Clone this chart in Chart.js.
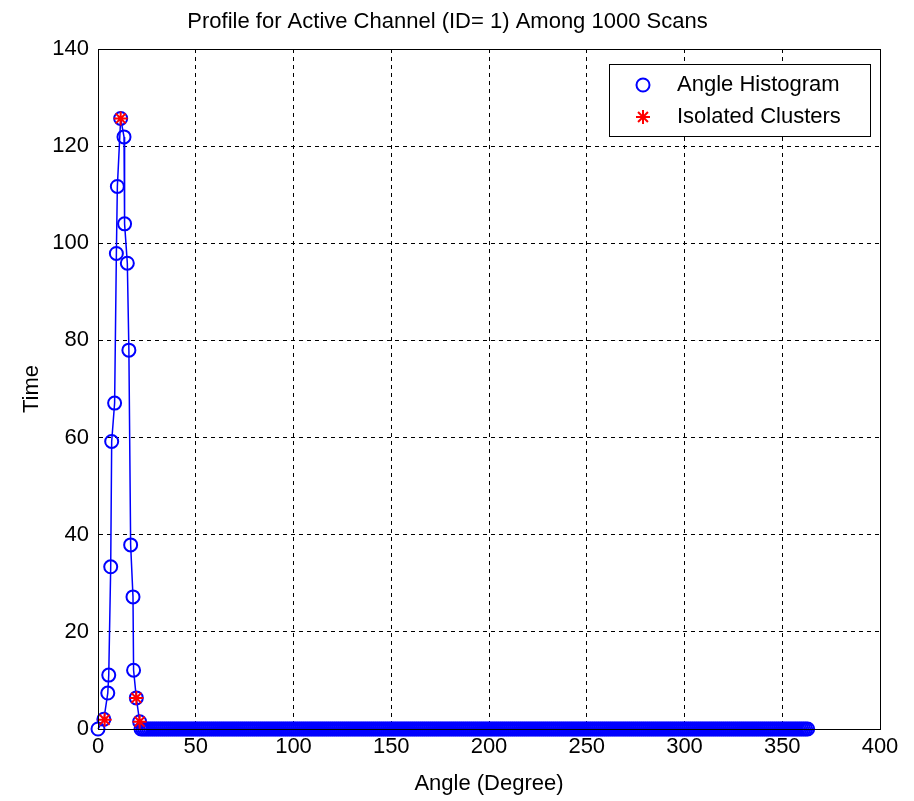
<!DOCTYPE html>
<html>
<head>
<meta charset="utf-8">
<script src="https://cdn.jsdelivr.net/npm/chart.js@4.4.0/dist/chart.umd.min.js"></script>
<style>
  body { margin: 0; background: #fff; }
  canvas { display: block; }
</style>
</head>
<body>
<canvas id="profileChart" width="914" height="801"></canvas>
<script>
// Angle histogram around the peak (degree, time)
const peakAngles = [0, 3, 5, 5.5, 6.5, 7, 8.5, 9.4, 9.9, 11.6, 13.3, 13.6, 15, 15.8, 16.7, 17.9, 18.2, 19.6, 21.3];
const peakValues = [0, 2, 7.4, 11.1, 33.4, 59.2, 67.1, 97.9, 111.7, 125.7, 121.9, 104, 95.9, 78, 37.9, 27.2, 12.1, 6.4, 1.5];

// every remaining degree reads as 0 in the picture
const zeroFrom = 22;
const zeroTo = 363;

// isolated clusters (red stars)
const clusterAngles = [3.4, 11.6, 19.6, 21.3];
const clusterValues = [1.9, 125.7, 6.4, 1.5];

const xTicks = [0, 50, 100, 150, 200, 250, 300, 350, 400];
const yTicks = [0, 20, 40, 60, 80, 100, 120, 140];

const FONT = 'Liberation Sans, Arial, sans-serif';

const histPoints = peakAngles.map((a, i) => ({ x: a, y: peakValues[i] }));
for (let d = zeroFrom; d <= zeroTo; d++) {
  histPoints.push({ x: d, y: 0 });
}
const clusterPoints = clusterAngles.map((a, i) => ({ x: a, y: clusterValues[i] }));

// box around the plot + legend inside top right (matlab style)
const boxAndLegend = {
  id: 'boxAndLegend',
  afterDraw(chart) {
    const ctx = chart.ctx;
    const a = chart.chartArea;
    ctx.save();
    ctx.strokeStyle = '#000';
    ctx.lineWidth = 1;
    ctx.setLineDash([]);
    ctx.strokeRect(a.left + 0.5, a.top + 0.5, a.right - a.left, a.bottom - a.top);

    // legend
    const bx = a.right - 271, by = a.top + 15, bw = 261, bh = 72;
    ctx.fillStyle = '#fff';
    ctx.fillRect(bx, by, bw, bh);
    ctx.strokeRect(bx + 0.5, by + 0.5, bw, bh);

    ctx.font = '22px ' + FONT;
    ctx.textBaseline = 'middle';
    ctx.textAlign = 'left';
    const ds = chart.data.datasets;
    const rows = [by + 21, by + 53];
    ds.forEach((d, i) => {
      ctx.fillStyle = d.pointStyle === 'circle' ? 'rgba(0,0,0,0)' : d.pointBorderColor;
      ctx.strokeStyle = d.pointBorderColor;
      ctx.lineWidth = d.pointBorderWidth;
      Chart.helpers.drawPoint(ctx, {
        pointStyle: d.pointStyle,
        radius: d.pointRadius,
        borderWidth: d.pointBorderWidth
      }, bx + 34, rows[i]);
      ctx.fillStyle = '#000';
      ctx.fillText(d.label, bx + 68, rows[i]);
    });
    ctx.restore();
  }
};

new Chart(document.getElementById('profileChart').getContext('2d'), {
  type: 'line',
  data: {
    datasets: [{
      label: 'Angle Histogram',
      data: histPoints,
      order: 1, // drawn under the stars
      borderColor: '#0000ff',
      borderWidth: 1.5,
      pointStyle: 'circle',
      pointRadius: 6.5,
      pointBorderWidth: 2,
      pointBorderColor: '#0000ff',
      pointBackgroundColor: 'rgba(0,0,0,0)',
      fill: false,
      tension: 0,
      clip: false
    }, {
      label: 'Isolated Clusters',
      data: clusterPoints,
      order: 0,
      showLine: false,
      pointStyle: 'star',
      pointRadius: 7,
      pointBorderWidth: 2,
      pointBorderColor: '#ff0000',
      pointBackgroundColor: '#ff0000',
      clip: false
    }]
  },
  options: {
    responsive: false,
    animation: false,
    events: [],
    layout: { padding: { left: 15, right: 34, top: 0, bottom: 0 } },
    plugins: {
      legend: { display: false },
      tooltip: { enabled: false },
      title: {
        display: true,
        text: 'Profile for Active Channel (ID= 1) Among 1000 Scans',
        color: '#000',
        font: { family: FONT, size: 22, weight: 'normal' },
        padding: { top: 9, bottom: 13.6 }
      }
    },
    scales: {
      x: {
        type: 'linear',
        min: 0,
        max: 400,
        afterBuildTicks: s => { s.ticks = xTicks.map(v => ({ value: v })); },
        afterFit: s => { s.height = 72; },
        ticks: { color: '#000', font: { family: FONT, size: 22 }, padding: 5, maxRotation: 0 },
        grid: { color: '#000', lineWidth: 1, drawTicks: false },
        border: { color: '#000', dash: [4, 4] },
        title: { display: true, text: 'Angle (Degree)', color: '#000', font: { family: FONT, size: 22 } }
      },
      y: {
        min: 0,
        max: 140,
        afterBuildTicks: s => { s.ticks = yTicks.map(v => ({ value: v })); },
        afterFit: s => { s.width = 83; },
        ticks: { color: '#000', font: { family: FONT, size: 22 }, padding: 9 },
        grid: { color: '#000', lineWidth: 1, drawTicks: false },
        border: { color: '#000', dash: [4, 4] },
        title: { display: true, text: 'Time', color: '#000', font: { family: FONT, size: 22 } }
      }
    }
  },
  plugins: [boxAndLegend]
});
</script>
</body>
</html>
